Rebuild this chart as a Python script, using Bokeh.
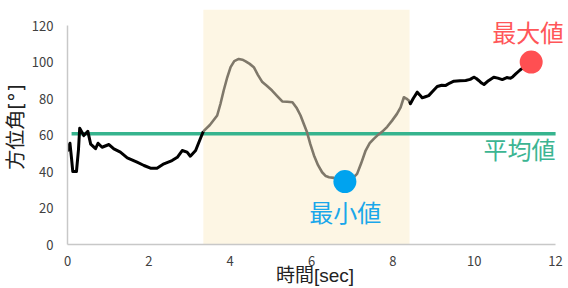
from bokeh.plotting import figure
from bokeh.models import Range1d, FixedTicker, Label
from bokeh.embed import file_html
from bokeh.resources import INLINE

# ---- data ----
seg1_t = [0.00, 0.03, 0.06, 0.10, 0.13, 0.22, 0.27, 0.30, 0.40, 0.50, 0.57, 0.69, 0.75, 0.85,
          1.02, 1.14, 1.30, 1.47, 1.71, 1.88, 2.04, 2.20, 2.37, 2.57, 2.70, 2.82, 2.94, 3.02,
          3.15, 3.28, 3.34]
seg1_v = [51.0, 54.0, 55.5, 47.0, 40.0, 40.0, 52.0, 63.7, 59.7, 62.0, 55.0, 52.5, 55.5, 53.3,
          54.8, 52.4, 50.6, 47.5, 45.1, 43.3, 41.8, 41.8, 44.2, 46.0, 47.8, 51.5, 50.6, 48.4,
          51.5, 58.8, 62.0]

seg2_t = [3.34, 3.50, 3.68, 3.76, 3.84, 3.92, 4.01, 4.10, 4.21, 4.30, 4.38, 4.48, 4.58, 4.68,
          4.79, 4.90, 5.03, 5.15, 5.28, 5.40, 5.53, 5.63, 5.73, 5.81, 5.89, 5.97, 6.06, 6.16,
          6.26, 6.35, 6.43, 6.55, 6.63, 6.72, 6.82, 6.95, 7.04, 7.12, 7.22, 7.33, 7.43, 7.53,
          7.64, 7.74, 7.86, 7.98, 8.10, 8.19, 8.27, 8.33, 8.39, 8.41]
seg2_v = [62.0, 65.5, 70.7, 77.0, 84.4, 91.0, 97.2, 100.5, 101.7, 101.3, 100.4, 99.0, 97.2, 93.0,
          89.0, 87.0, 84.4, 81.5, 78.4, 78.2, 78.0, 75.0, 70.7, 66.0, 61.5, 55.0, 48.8, 43.5,
          39.6, 37.5, 36.9, 36.5, 36.3, 35.5, 35.0, 35.5, 37.0, 38.7, 44.5, 51.5, 55.5, 57.9,
          60.2, 61.9, 64.5, 67.9, 71.6, 75.2, 80.7, 80.0, 78.9, 78.5]

seg3_t = [8.41, 8.43, 8.50, 8.60, 8.66, 8.72, 8.80, 8.88, 8.98, 9.09, 9.20, 9.29, 9.40, 9.50,
          9.65, 9.79, 9.90, 9.99, 10.05, 10.11, 10.18, 10.24, 10.35, 10.48, 10.58, 10.69, 10.80,
          10.89, 10.95, 11.02, 11.12, 11.22, 11.30]
seg3_v = [78.5, 77.1, 80.0, 83.5, 82.0, 80.4, 81.0, 81.6, 84.0, 86.6, 87.3, 87.1, 88.5, 89.5,
          89.8, 89.9, 90.5, 91.7, 91.0, 89.9, 88.5, 87.7, 89.8, 91.7, 91.2, 90.4, 91.5,
          91.1, 92.0, 93.5, 95.5, 97.2, 98.5]

mean_value = 60.7
mean_t = [0.1, 12.0]
shade_start = 3.34
shade_end = 8.41
shade_top = 128.8
min_point = (6.82, 34.5)
max_point = (11.40, 100.0)
x_ticks = [0, 2, 4, 6, 8, 10, 12]
y_ticks = [0, 20, 40, 60, 80, 100, 120]

FONT = "Noto Sans CJK JP"
XTITLE_FONT = "Liberation Sans, Noto Sans CJK JP"
YTITLE_FONT = "DejaVu Sans, Noto Sans CJK JP"

p = figure(width=568, height=288, output_backend="svg", toolbar_location=None,
           x_range=Range1d(0, 12.17), y_range=Range1d(0, shade_top),
           min_border_left=67, min_border_right=6, min_border_top=9, min_border_bottom=44)
p.outline_line_color = None
p.grid.visible = False
p.background_fill_color = "white"

# shaded interval
p.quad(left=[shade_start], right=[shade_end], bottom=[0], top=[shade_top],
       fill_color="#fdf6e4", line_color=None)

# mean line
p.line(mean_t, [mean_value, mean_value], line_color="#36b48e", line_width=3.5)

# series
p.line(seg1_t, seg1_v, line_color="black", line_width=3, line_join="round")
p.line(seg2_t, seg2_v, line_color="#7f786a", line_width=2.6, line_join="round")
p.line(seg3_t, seg3_v, line_color="black", line_width=3, line_join="round")

p.scatter([min_point[0]], [min_point[1]], size=23, fill_color="#00a3ef", line_color=None)
p.scatter([max_point[0]], [max_point[1]], size=23, fill_color="#ff4f52", line_color=None)

# axes
for ax, ticks, b in ((p.xaxis[0], x_ticks, (0, 12)), (p.yaxis[0], y_ticks, (0, 120))):
    ax.ticker = FixedTicker(ticks=ticks)
    ax.bounds = b
    ax.axis_line_color = "#c8c8c8"
    ax.axis_line_width = 1.5
    ax.major_tick_line_color = None
    ax.minor_tick_line_color = None
    ax.major_label_text_font = FONT
    ax.major_label_text_font_size = "13px"
    ax.major_label_text_color = "#404040"
    ax.axis_label_text_font_size = "19px"
    ax.axis_label_text_font_style = "normal"
    ax.axis_label_text_color = "#222222"
p.xaxis[0].axis_label_text_font = XTITLE_FONT
p.yaxis[0].axis_label_text_font = YTITLE_FONT
p.yaxis[0].axis_label_text_font_size = "20px"
p.xaxis[0].major_label_standoff = 5
p.yaxis[0].major_label_standoff = 8
p.xaxis[0].axis_label = "時間[sec]"
p.yaxis[0].axis_label = "方位角[°]"
p.xaxis[0].axis_label_standoff = -4
p.yaxis[0].axis_label_standoff = 1

# annotations
p.add_layout(Label(x=11.33, y=117.0, text="最大値", text_align="center",
                   text_baseline="middle", text_font=FONT, text_font_size="24px",
                   text_color="#ff5659"))
p.add_layout(Label(x=12.0, y=52.5, text="平均値", text_align="right",
                   text_baseline="middle", text_font=FONT, text_font_size="24px",
                   text_color="#3cb592"))
p.add_layout(Label(x=6.83, y=18.0, text="最小値", text_align="center",
                   text_baseline="middle", text_font=FONT, text_font_size="24px",
                   text_color="#1aa7ea"))

open("out.html", "w").write(file_html(p, INLINE))
